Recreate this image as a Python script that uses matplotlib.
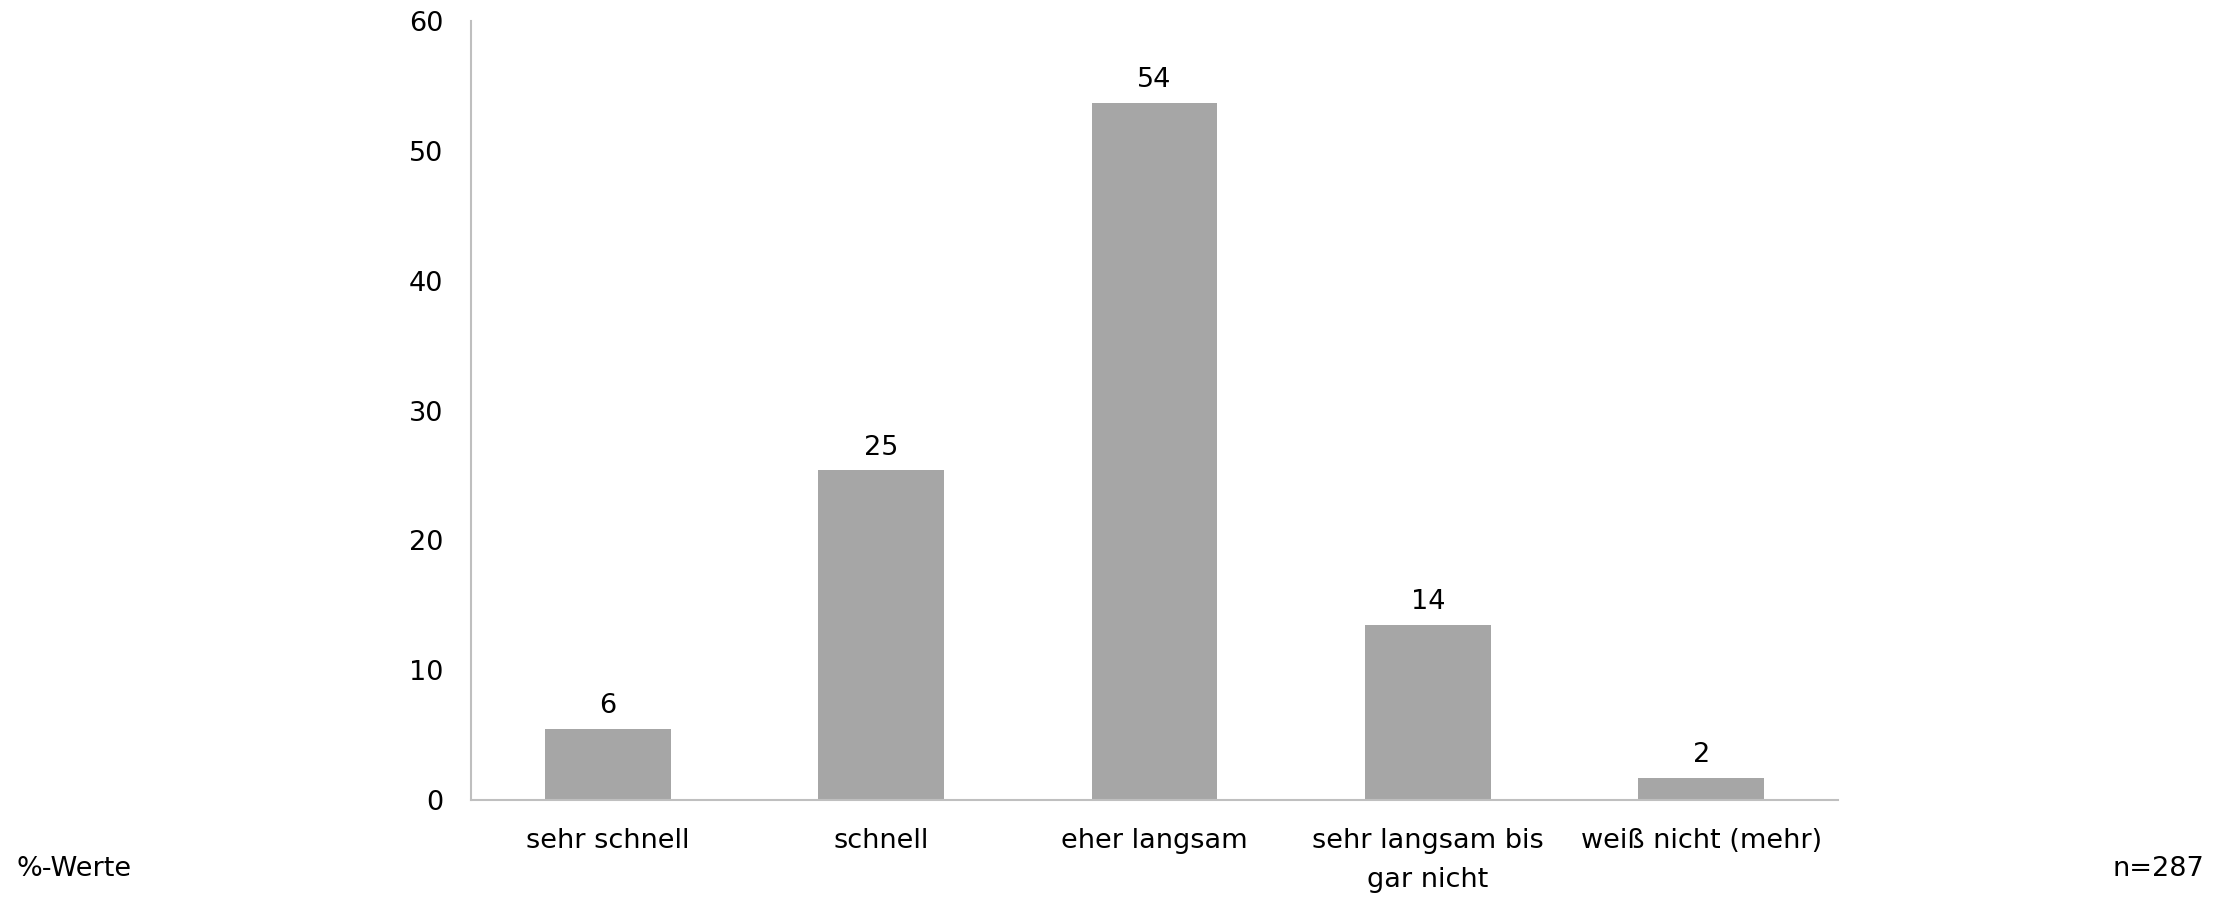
import matplotlib
matplotlib.use("Agg")
import matplotlib.pyplot as plt

plt.rcParams['font.family'] = ['DejaVu Sans']

categories = ["sehr schnell", "schnell", "eher langsam", "sehr langsam bis\ngar nicht", "weiß nicht (mehr)"]
values = [5.5, 25.4, 53.7, 13.5, 1.7]
yticks = [0, 10, 20, 30, 40, 50, 60]

bar_color = "#A6A6A6"
axis_color = "#BFBFBF"
text_color = "#000000"
fs = 19.5

fig = plt.figure(figsize=(22.31, 8.97), dpi=100)
ax = fig.add_axes([471 / 2231, 1 - 800 / 897, (1838 - 471) / 2231, (800 - 21) / 897])

x = list(range(len(categories)))
bars = ax.bar(x, values, width=0.46, color=bar_color, zorder=2)

for rect, v in zip(bars, values):
    ax.annotate(f"{v:.0f}", (rect.get_x() + rect.get_width() / 2, v),
                xytext=(0, 7), textcoords="offset points",
                ha="center", va="bottom", fontsize=fs, color=text_color)

ax.set_xlim(-0.5, len(categories) - 0.5)
ax.set_ylim(0, 60)
ax.set_yticks(yticks)
ax.set_yticklabels([str(t) for t in yticks], fontsize=fs, color=text_color)
ax.set_xticks(x)
ax.set_xticklabels(categories, fontsize=fs, color=text_color, linespacing=1.65)
ax.tick_params(axis="both", length=0)
ax.tick_params(axis="x", pad=20)
ax.tick_params(axis="y", pad=20)

for side in ("top", "right"):
    ax.spines[side].set_visible(False)
for side in ("left", "bottom"):
    ax.spines[side].set_color(axis_color)
    ax.spines[side].set_linewidth(1.5)

fig.text(17 / 2231, 1 - 869 / 897, "%-Werte", fontsize=fs, color=text_color, ha="left", va="center")
fig.text(2204 / 2231, 1 - 869 / 897, "n=287", fontsize=fs, color=text_color, ha="right", va="center")

fig.savefig("out.png", dpi=100, facecolor="white")
